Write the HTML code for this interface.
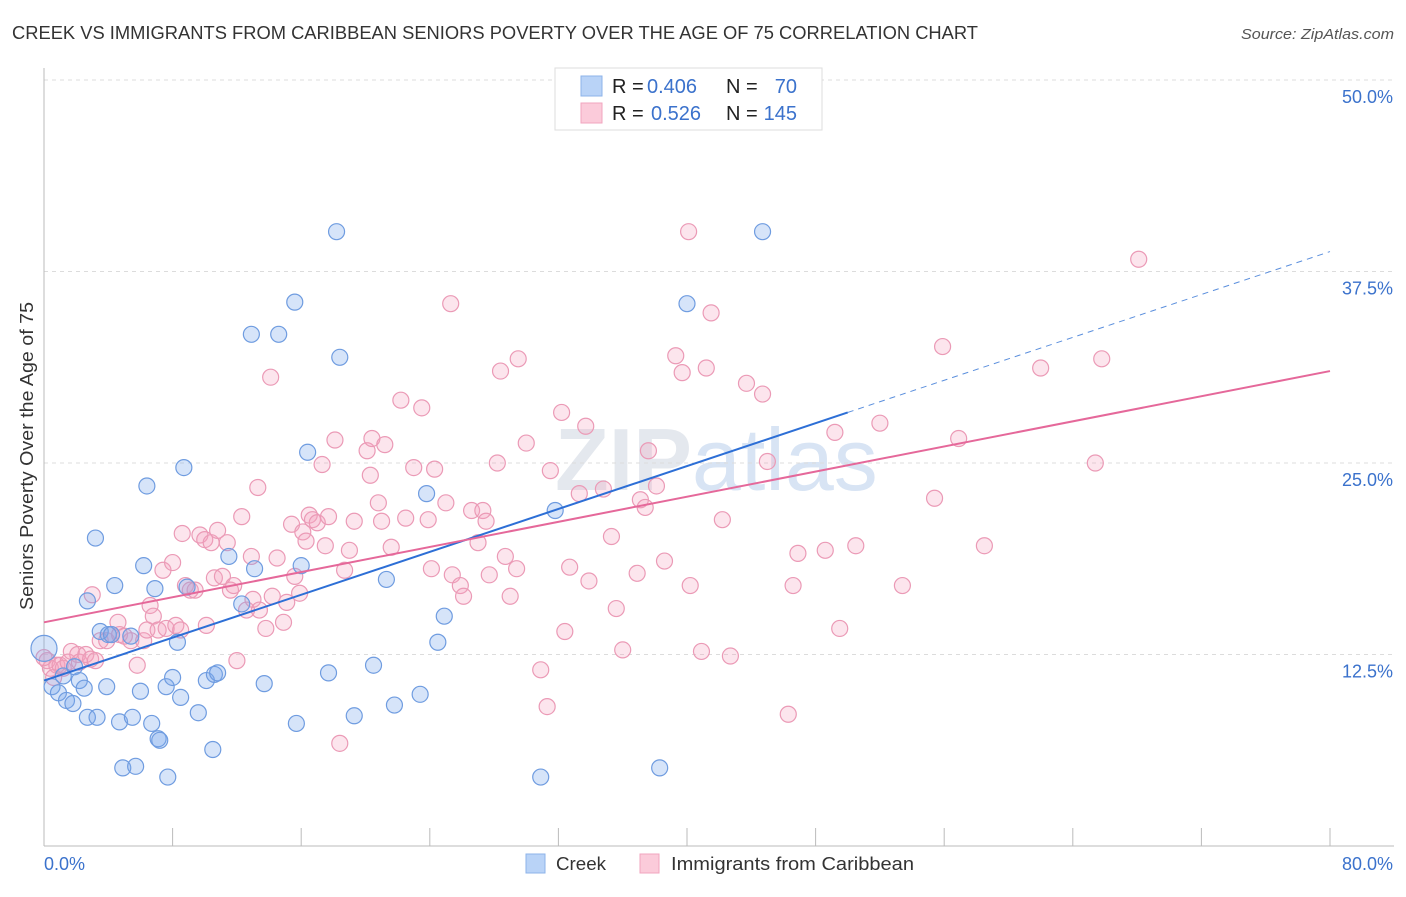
<!DOCTYPE html>
<html><head><meta charset="utf-8"><style>
body{margin:0;background:#fff;font-family:"Liberation Sans",sans-serif;}
svg text{font-family:"Liberation Sans",sans-serif;}
</style></head><body>
<svg id="chart" width="1406" height="892" xmlns="http://www.w3.org/2000/svg">
<text x="12" y="39" font-size="18" fill="#333" textLength="966" lengthAdjust="spacingAndGlyphs">CREEK VS IMMIGRANTS FROM CARIBBEAN SENIORS POVERTY OVER THE AGE OF 75 CORRELATION CHART</text>
<text x="1394" y="39" font-size="15" fill="#555" font-style="italic" text-anchor="end" textLength="153" lengthAdjust="spacingAndGlyphs">Source: ZipAtlas.com</text>
<text transform="translate(33,456) rotate(-90)" font-size="18" fill="#333" text-anchor="middle" textLength="308" lengthAdjust="spacingAndGlyphs">Seniors Poverty Over the Age of 75</text>
<text x="555" y="490" font-size="88" fill="#e4e8ee" font-weight="bold">ZIP<tspan fill="#d8e4f4" font-weight="normal">atlas</tspan></text>
<g id="grid"></g><g id="marks"></g><g id="lines"></g>
<g>
<rect x="555" y="68" width="267" height="62" fill="#fff" stroke="#ddd"/>
<rect x="581" y="76" width="21" height="20" fill="#b9d3f7" stroke="#8db3ea"/>
<rect x="581" y="103" width="21" height="20" fill="#fbcbda" stroke="#f1a5bf"/>
<text x="612" y="93" font-size="20" fill="#222">R =</text>
<text x="647" y="93" font-size="20" fill="#3b72cc">0.406</text>
<text x="726" y="93" font-size="20" fill="#222">N =</text>
<text x="797" y="93" font-size="20" fill="#3b72cc" text-anchor="end">70</text>
<text x="612" y="120" font-size="20" fill="#222">R =</text>
<text x="651" y="120" font-size="20" fill="#3b72cc">0.526</text>
<text x="726" y="120" font-size="20" fill="#222">N =</text>
<text x="797" y="120" font-size="20" fill="#3b72cc" text-anchor="end">145</text>
</g>
<g>
<rect x="526" y="854" width="19" height="19" fill="#b9d3f7" stroke="#8db3ea"/>
<text x="556" y="870" font-size="18" fill="#333" textLength="50" lengthAdjust="spacingAndGlyphs">Creek</text>
<rect x="640" y="854" width="19" height="19" fill="#fbcbda" stroke="#f1a5bf"/>
<text x="671" y="870" font-size="18" fill="#333" textLength="243" lengthAdjust="spacingAndGlyphs">Immigrants from Caribbean</text>
</g>
</svg>
<script>
const creekX=[0,0.5,0.9,1.2,1.4,1.8,1.9,2.2,2.5,2.7,2.7,3.2,3.3,3.5,3.9,4.0,4.2,4.4,4.7,4.9,5.4,5.5,5.7,6.0,6.2,6.4,6.7,6.9,7.1,7.2,7.6,7.7,8.0,8.3,8.5,8.7,8.9,9.6,10.1,10.5,10.6,10.8,11.5,12.3,12.9,13.1,13.7,14.6,15.6,15.7,16.0,16.4,17.7,18.2,18.4,19.3,20.5,21.3,21.8,23.4,23.8,24.5,24.9,30.9,31.8,38.3,40.0,44.7];
const creekY=[12.9,10.4,10.0,11.1,9.5,9.3,11.7,10.8,10.3,8.4,16.0,20.1,8.4,14.0,10.4,13.8,13.8,17.0,8.1,5.1,13.7,8.4,5.2,10.1,18.3,23.5,8.0,16.8,7.0,6.9,10.4,4.5,11.0,13.3,9.7,24.7,16.9,8.7,10.8,6.3,11.2,11.3,18.9,15.8,33.4,18.1,10.6,33.4,35.5,8.0,18.3,25.7,11.3,40.1,31.9,8.5,11.8,17.4,9.2,9.9,23.0,13.3,15.0,4.5,21.9,5.1,35.4,40.1];
const caribX=[0.2,0.4,0.6,0.8,1.0,1.2,1.5,1.7,2.1,2.2,2.6,2.9,3.0,3.2,3.5,3.9,4.2,4.6,4.7,5.0,5.4,5.8,6.2,6.4,6.6,6.8,7.1,7.4,7.6,8.0,8.2,8.5,8.6,8.8,9.1,9.4,9.7,10.0,10.1,10.4,10.6,10.8,11.1,11.4,11.6,11.8,12.0,12.3,12.6,12.9,13.0,13.3,13.4,13.8,14.1,14.2,14.5,14.9,15.1,15.4,15.6,15.9,16.1,16.3,16.5,16.7,17.0,17.3,17.5,17.7,18.1,18.4,18.7,19.0,19.3,20.1,20.3,20.4,20.8,21.0,21.2,21.6,22.2,22.5,23.0,23.5,23.9,24.1,24.3,25.0,25.3,25.4,25.9,26.1,26.6,27.0,27.3,27.5,27.7,28.2,28.4,28.7,29.0,29.4,29.5,30.0,30.9,31.3,31.5,32.2,32.4,32.7,33.3,33.7,33.9,34.8,35.3,35.6,36.0,36.9,37.1,37.4,37.6,38.1,38.6,39.3,39.7,40.1,40.2,40.9,41.2,41.5,42.2,42.7,43.7,44.7,45.0,46.3,46.6,46.9,48.6,49.2,49.5,50.5,52.0,53.4,55.4,55.9,56.9,58.5,62.0,65.4,65.8,68.1,0];
const caribY=[12.1,11.6,11.0,11.8,11.8,11.6,12.0,12.7,12.5,12.0,12.5,12.2,16.4,12.1,13.4,13.4,13.8,14.6,13.8,13.7,13.4,11.8,13.4,14.1,15.7,15.0,14.1,18.0,14.2,18.5,14.4,14.1,20.4,17.0,16.7,16.7,20.3,20.0,14.4,19.8,17.5,20.6,17.6,19.8,16.7,17.0,12.1,21.5,15.4,18.9,16.1,23.4,15.4,14.2,30.6,16.3,18.8,14.6,15.9,21.0,17.6,16.5,20.5,19.9,21.6,21.3,21.1,24.9,19.6,21.5,26.5,6.7,18.0,19.3,21.2,25.8,24.2,26.6,22.4,21.2,26.2,19.5,29.1,21.4,24.7,28.6,21.3,18.1,24.6,22.4,35.4,17.7,17.0,16.3,21.9,19.8,21.9,21.2,17.7,25.0,31.0,18.9,16.3,18.1,31.8,26.3,11.5,9.1,24.5,28.3,14.0,18.2,23.0,27.4,17.3,23.3,20.2,15.5,12.8,17.8,22.6,22.1,25.8,23.5,18.6,32.0,30.9,40.1,17.0,12.7,31.2,34.8,21.3,12.4,30.2,29.5,25.1,8.6,17.0,19.1,19.3,27.0,14.2,19.6,27.6,17.0,22.7,32.6,26.6,19.6,31.2,25.0,31.8,38.3,12.3];
const yTicks=[12.5,25.0,37.5,50.0];
const yTickLabels=["12.5%","25.0%","37.5%","50.0%"];
const xTicks=[0,8,16,24,32,40,48,56,64,72,80];
const xTickLabels=["0.0%","80.0%"];
const creekFit=[10.8,0.35];
const caribFit=[14.6,0.205];
const creekSolidEnd=50;

const X=v=>44+v*(1286/80);
const Y=v=>846-v*15.32;
const NS="http://www.w3.org/2000/svg";
function mk(tag,attrs,parent){const e=document.createElementNS(NS,tag);for(const k in attrs)e.setAttribute(k,attrs[k]);parent.appendChild(e);return e;}
const grid=document.getElementById('grid'),marks=document.getElementById('marks'),lines=document.getElementById('lines');
yTicks.forEach((t,i)=>{
 const l=mk('line',{x1:44,x2:1394,y1:Y(t),y2:Y(t),stroke:'#dcdcdc','stroke-dasharray':'4,4'},grid);
 
 
 const tx=mk('text',{x:1393,y:Y(t)+23,'font-size':18,fill:'#3b72cc','text-anchor':'end'},grid);
 tx.textContent=yTickLabels[i];
 
 
});
const ax=mk('line',{x1:44,x2:44,y1:68,y2:846,stroke:'#bbb'},grid);


const bx=mk('line',{x1:44,x2:1394,y1:846,y2:846,stroke:'#bbb'},grid);


xTicks.forEach(t=>{
 const l=mk('line',{x1:X(t),x2:X(t),y1:828,y2:846,stroke:'#bbb'},grid);
 
 
});
const xl0=mk('text',{x:44,y:870,'font-size':18,fill:'#3b72cc'},grid);xl0.textContent=xTickLabels[0];


const xl1=mk('text',{x:1393,y:870,'font-size':18,fill:'#3b72cc','text-anchor':'end'},grid);xl1.textContent=xTickLabels[1];


caribX.forEach((v,i)=>{
 const c=mk('circle',{cx:X(v),cy:Y(caribY[i]),r:8,fill:'rgba(245,160,190,0.28)',stroke:'#eb9ab6','stroke-width':1.2},marks);
 
 
});
creekX.forEach((v,i)=>{
 const c=mk('circle',{cx:X(v),cy:Y(creekY[i]),r:i===0?13:8,fill:'rgba(120,165,235,0.3)',stroke:'#6f9ce0','stroke-width':1.2},marks);
 
 
});
const f=(fit,x)=>fit[0]+fit[1]*x;
const l1=mk('line',{x1:X(0),y1:Y(f(creekFit,0)),x2:X(creekSolidEnd),y2:Y(f(creekFit,creekSolidEnd)),stroke:'#2d6fd6','stroke-width':2},lines);


const l2=mk('line',{x1:X(creekSolidEnd),y1:Y(f(creekFit,creekSolidEnd)),x2:X(80),y2:Y(f(creekFit,80)),stroke:'#5b8fdd','stroke-width':1,'stroke-dasharray':'6,5'},lines);


const l3=mk('line',{x1:X(0),y1:Y(f(caribFit,0)),x2:X(80),y2:Y(f(caribFit,80)),stroke:'#e5689a','stroke-width':2},lines);


</script>
</body></html>
